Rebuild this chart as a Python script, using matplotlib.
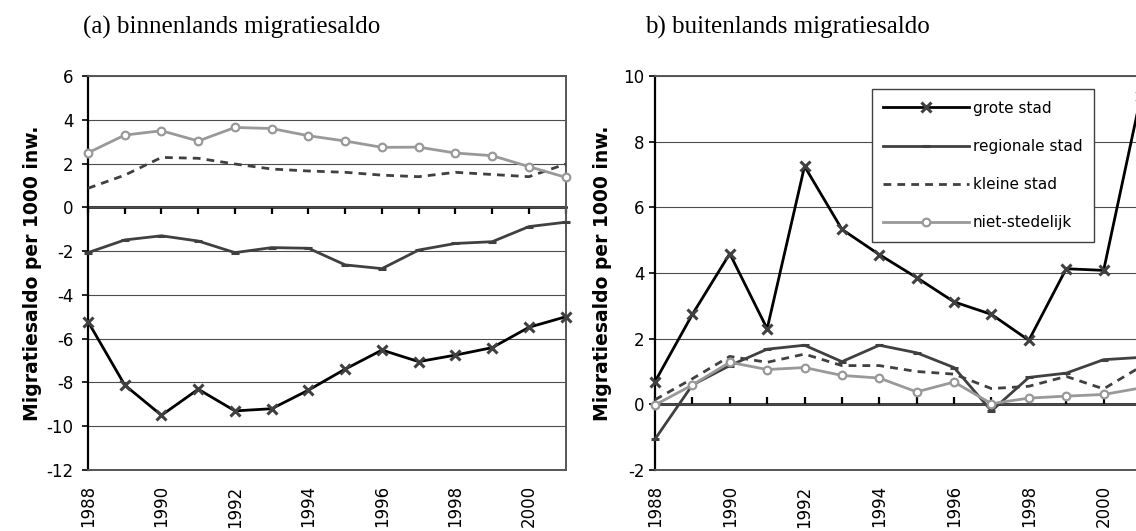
import matplotlib
matplotlib.use("Agg")
import matplotlib.pyplot as plt

# ---------------- data ----------------
years = list(range(1988, 2002))
xtick_years = [1988, 1990, 1992, 1994, 1996, 1998, 2000]
series_names = ["grote stad", "regionale stad", "kleine stad", "niet-stedelijk"]

# (a) binnenlands migratiesaldo
bin_grote = [-5.22, -8.12, -9.5, -8.31, -9.3, -9.2, -8.35, -7.39, -6.52, -7.05, -6.75, -6.41, -5.48, -5.0]
bin_regionaal = [-2.07, -1.49, -1.3, -1.54, -2.07, -1.84, -1.87, -2.63, -2.8, -1.95, -1.65, -1.57, -0.88, -0.68]
bin_klein = [0.87, 1.47, 2.28, 2.24, 1.98, 1.75, 1.66, 1.6, 1.47, 1.4, 1.6, 1.5, 1.4, 1.98]
bin_niet = [2.49, 3.3, 3.5, 3.03, 3.65, 3.6, 3.27, 3.03, 2.74, 2.75, 2.48, 2.36, 1.86, 1.37]

# (b) buitenlands migratiesaldo
buit_grote = [0.69, 2.74, 4.59, 2.3, 7.25, 5.33, 4.56, 3.86, 3.12, 2.74, 1.95, 4.13, 4.08, 9.4]
buit_regionaal = [-1.06, 0.59, 1.18, 1.68, 1.8, 1.3, 1.8, 1.57, 1.12, -0.2, 0.82, 0.95, 1.36, 1.43]
buit_klein = [0.14, 0.78, 1.46, 1.28, 1.53, 1.18, 1.18, 1.0, 0.92, 0.48, 0.55, 0.85, 0.47, 1.15]
buit_niet = [-0.02, 0.59, 1.28, 1.06, 1.12, 0.88, 0.8, 0.38, 0.68, 0.02, 0.19, 0.25, 0.3, 0.5]

titles = ["(a) binnenlands migratiesaldo", "b) buitenlands migratiesaldo"]
ylabel = "Migratiesaldo per 1000 inw."
left_yticks = [-12, -10, -8, -6, -4, -2, 0, 2, 4, 6]
right_yticks = [-2, 0, 2, 4, 6, 8, 10]

# ---------------- styling ----------------
plt.rcParams["font.family"] = ["DejaVu Sans"]
plt.rcParams["axes.unicode_minus"] = False
W, H = 1136, 531
fig = plt.figure(figsize=(W / 100, H / 100), dpi=100)

DARK = "#404040"
LIGHT = "#999999"
styles = [
    dict(color="black", lw=2.0, marker="x", ms=7, mew=2.2, mec=DARK),
    dict(color=DARK, lw=2.0, marker="_", ms=6, mew=2.2, mec=DARK),
    dict(color=DARK, lw=2.0, linestyle=(0, (2.8, 2.2))),
    dict(color=LIGHT, lw=2.0, marker="o", ms=5.5, mew=1.6, mfc="white", mec=LIGHT),
]


def setup(ax, data, yticks, ylim, ylab_x, ypad):
    lines = []
    for vals, st, name in zip(data, styles, series_names):
        (ln,) = ax.plot(years, vals, label=name, clip_on=False, zorder=3, **st)
        lines.append(ln)
    ax.set_xlim(1988, 2001)
    ax.set_ylim(*ylim)
    ax.set_yticks(yticks)
    ax.set_xticks(xtick_years)
    ax.set_xticklabels([str(y) for y in xtick_years], rotation=90, va="top")
    ax.tick_params(axis="x", length=0, pad=11, labelsize=12)
    ax.tick_params(axis="y", direction="out", length=4.5, width=1.2, pad=ypad,
                   labelsize=12, color="black")
    ax.yaxis.grid(True, color="#4d4d4d", lw=0.8)
    ax.set_axisbelow(True)
    for s in ("top", "right", "bottom"):
        ax.spines[s].set_color("#555555")
        ax.spines[s].set_linewidth(1.4)
    ax.spines["left"].set_color("black")
    ax.spines["left"].set_linewidth(1.6)
    # zero line with year ticks
    y0 = (0 - ylim[0]) / (ylim[1] - ylim[0])
    sec = ax.secondary_xaxis(y0)
    sec.set_xticks(years)
    sec.tick_params(axis="x", direction="in", length=5, width=1.6,
                    labeltop=False, labelbottom=False, color="black")
    for s in sec.spines.values():
        s.set_color("black")
        s.set_linewidth(1.8)
    ax.set_ylabel(ylabel, fontsize=13.5, fontweight="bold")
    ax.yaxis.set_label_coords(ylab_x, 0.5)
    return lines


axL = fig.add_axes([88 / W, 1 - 470 / H, 477.7 / W, 394 / H])
axR = fig.add_axes([655 / W, 1 - 470 / H, 486 / W, 394 / H])

setup(axL, [bin_grote, bin_regionaal, bin_klein, bin_niet], left_yticks, (-12, 6), -0.097, 6)
lines = setup(axR, [buit_grote, buit_regionaal, buit_klein, buit_niet], right_yticks, (-2, 10), -0.0885, 3)

leg = fig.legend(handles=lines, labels=series_names, loc="upper left",
                 bbox_to_anchor=(871.7 / W, 1 - 89.3 / H), bbox_transform=fig.transFigure,
                 borderaxespad=0, fontsize=11, numpoints=1, handlelength=5.6,
                 handletextpad=0.25, labelspacing=1.52, borderpad=0.75,
                 fancybox=False, framealpha=1, edgecolor=DARK)
leg.get_frame().set_linewidth(1.0)

fig.text(83 / W, 1 - 34 / H, titles[0], family="Liberation Serif", fontsize=18, va="baseline")
fig.text(645 / W, 1 - 34 / H, titles[1], family="Liberation Serif", fontsize=18, va="baseline")

fig.savefig("out.png", dpi=100)
